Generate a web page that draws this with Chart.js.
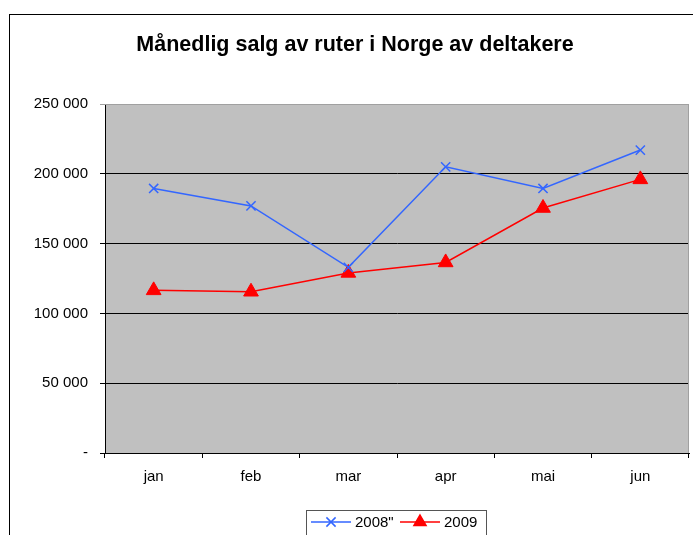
<!DOCTYPE html>
<html>
<head>
<meta charset="utf-8">
<script src="https://cdn.jsdelivr.net/npm/chart.js@4"></script>
<style>
  html, body { margin: 0; padding: 0; background: #fff; }
  #wrap { width: 693px; height: 535px; }
</style>
</head>
<body>
<div id="wrap"><canvas id="chart" width="693" height="535"></canvas></div>
<script>
const maneder = ['jan', 'feb', 'mar', 'apr', 'mai', 'jun'];
const salg2008 = [189500, 177000, 133000, 205000, 189500, 217000];
const salg2009 = [116500, 115500, 129000, 136500, 175500, 196000];
const tittel = 'Månedlig salg av ruter i Norge av deltakere';
const serieNavn = ['2008"', '2009'];

const blaa = '#3366FF';
const roed = '#FF0000';
const fontNavn = '"Liberation Sans", Arial, sans-serif';

function formatTall(v) {
  if (v === 0) return '-';
  return String(v).replace(/\B(?=(\d{3})+(?!\d))/g, ' ');
}

// bakgrunn, ramme, tittel og forklaring
const rammePlugin = {
  id: 'ramme',
  beforeDraw(chart) {
    const { ctx, chartArea: a } = chart;
    ctx.save();
    ctx.fillStyle = '#C0C0C0';
    ctx.fillRect(a.left, a.top, a.right - a.left, a.bottom - a.top);
    ctx.restore();
  },
  afterDraw(chart) {
    const { ctx, chartArea: a } = chart;
    ctx.save();
    // ytre ramme
    ctx.strokeStyle = '#000';
    ctx.lineWidth = 1;
    ctx.strokeRect(9.5, 14.5, 720, 560);
    // plotramme topp og høyre
    ctx.strokeStyle = '#A0A0A0';
    ctx.beginPath();
    ctx.moveTo(a.left, a.top + 0.5);
    ctx.lineTo(a.right - 0.5, a.top + 0.5);
    ctx.lineTo(a.right - 0.5, a.bottom);
    ctx.stroke();

    // tittel
    ctx.fillStyle = '#000';
    ctx.font = 'bold 21.5px ' + fontNavn;
    ctx.textAlign = 'center';
    ctx.textBaseline = 'middle';
    ctx.fillText(tittel, 355, 45);

    // forklaring
    ctx.strokeStyle = '#555';
    ctx.strokeRect(306.5, 510.5, 180, 40);
    ctx.font = '15px ' + fontNavn;
    ctx.textAlign = 'left';
    const ly = 522;
    const items = [
      { x: 311, farge: blaa, stil: 'crossRot', r: 6.5, navn: serieNavn[0] },
      { x: 400, farge: roed, stil: 'triangle', r: 7, navn: serieNavn[1] }
    ];
    items.forEach(it => {
      ctx.strokeStyle = it.farge;
      ctx.lineWidth = 1.5;
      ctx.beginPath();
      ctx.moveTo(it.x, ly);
      ctx.lineTo(it.x + 40, ly);
      ctx.stroke();
      ctx.fillStyle = it.farge;
      Chart.helpers.drawPoint(ctx, { pointStyle: it.stil, radius: it.r, borderWidth: 1.5 }, it.x + 20, ly);
      ctx.fillStyle = '#000';
      ctx.fillText(it.navn, it.x + 44, ly + 1);
    });
    ctx.restore();
  }
};

new Chart(document.getElementById('chart').getContext('2d'), {
  type: 'line',
  data: {
    labels: maneder,
    datasets: [
      {
        label: serieNavn[0],
        data: salg2008,
        borderColor: blaa,
        backgroundColor: blaa,
        borderWidth: 1.5,
        pointStyle: 'crossRot',
        pointRadius: 6.5,
        pointBorderWidth: 1.5,
        tension: 0
      },
      {
        label: serieNavn[1],
        data: salg2009,
        borderColor: roed,
        backgroundColor: roed,
        borderWidth: 1.5,
        pointStyle: 'triangle',
        pointRadius: 8.5,
        pointBorderWidth: 1,
        tension: 0
      }
    ]
  },
  options: {
    responsive: false,
    animation: false,
    layout: { autoPadding: false, padding: { left: 0, top: 104, right: 4, bottom: 42 } },
    plugins: {
      legend: { display: false },
      title: { display: false },
      tooltip: { enabled: false }
    },
    scales: {
      x: {
        offset: true,
        grid: { offset: true, drawOnChartArea: false, color: '#000', tickLength: 5 },
        border: { color: '#000', width: 1 },
        ticks: { color: '#000', font: { family: fontNavn, size: 15 }, padding: 10 },
        afterFit(s) { s.height = 40; s.paddingLeft = 0; s.paddingRight = 0; }
      },
      y: {
        min: 0,
        max: 250000,
        grid: {
          color: ctx => (ctx.tick && ctx.tick.value === 250000) ? '#A0A0A0' : '#000',
          tickLength: 5
        },
        border: { color: '#000', width: 1 },
        ticks: {
          stepSize: 50000,
          color: '#000',
          font: { family: fontNavn, size: 15 },
          padding: 12,
          callback: v => formatTall(v)
        },
        afterFit(s) { s.width = 105; s.paddingTop = 0; s.paddingBottom = 0; }
      }
    }
  },
  plugins: [rammePlugin]
});
</script>
</body>
</html>
